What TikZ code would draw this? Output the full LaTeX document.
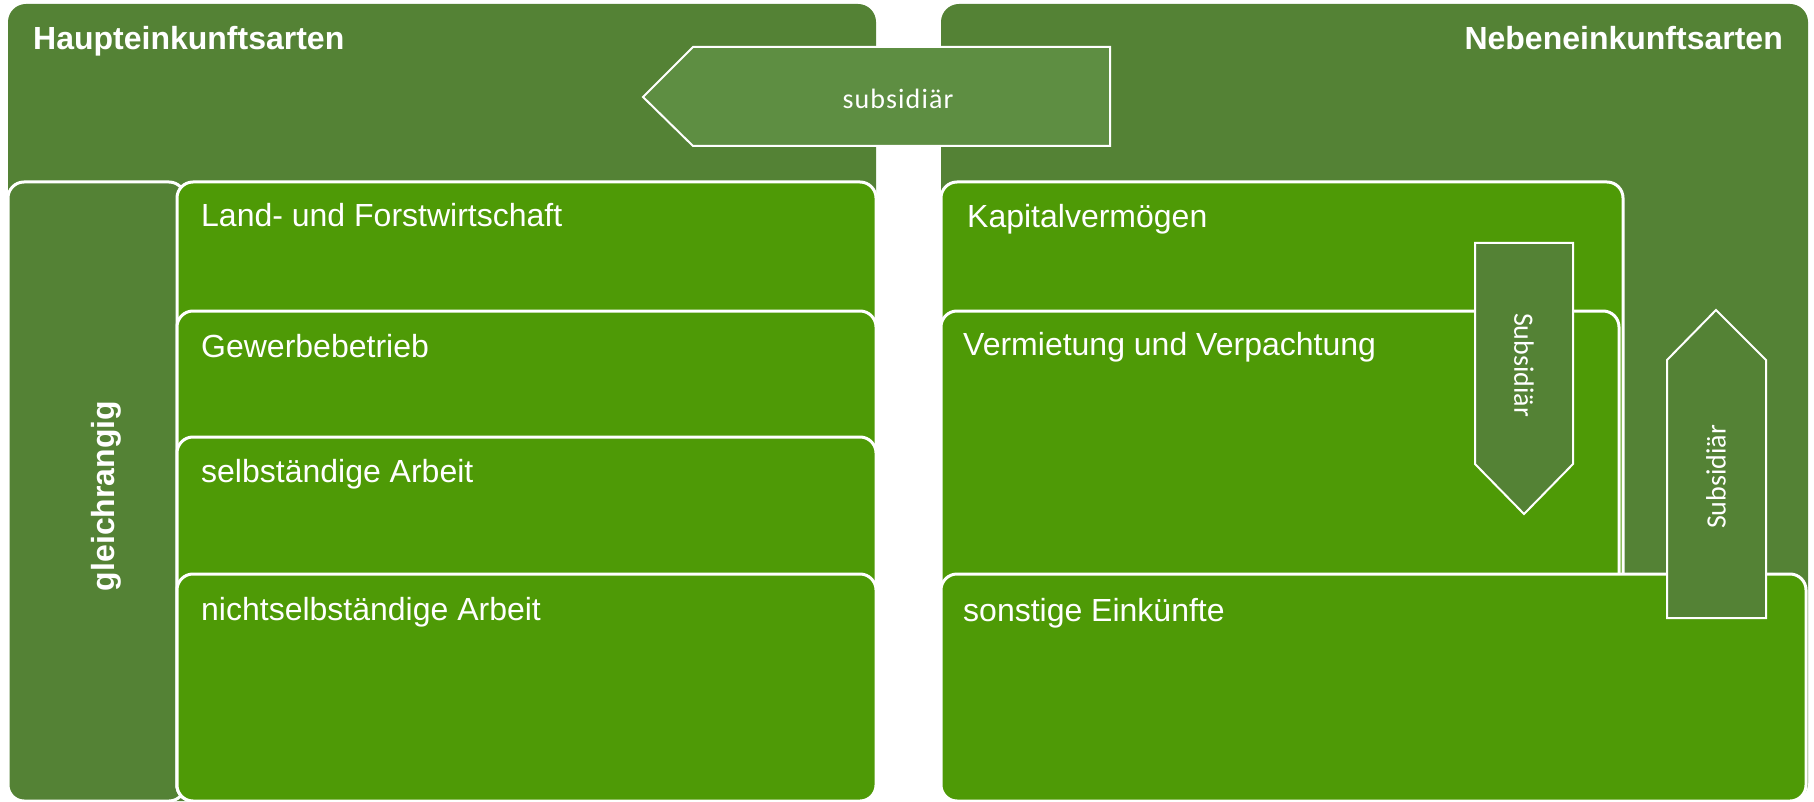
\documentclass[tikz,border=0pt]{standalone}
\usepackage{fontspec}
\setmainfont{Liberation Sans}
\newfontfamily\calf{Carlito}
\newfontfamily\calfsp[LetterSpace=4]{Carlito}
\definecolor{panelgreen}{RGB}{84,130,53}
\definecolor{boxgreen}{RGB}{78,154,6}
\definecolor{arrowgreen}{RGB}{94,142,66}
\tikzset{
  panel/.style={fill=panelgreen, rounded corners=18pt},
  itembox/.style={fill=boxgreen, draw=white, line width=3pt, rounded corners=16pt},
  sidebox/.style={fill=panelgreen, draw=white, line width=3pt, rounded corners=16pt},
  arrowshape/.style={fill=panelgreen, draw=white, line width=2pt},
  toparrow/.style={fill=arrowgreen, draw=white, line width=2pt},
  itemlabel/.style={anchor=base west, inner sep=0pt, text=white, font=\fontsize{32}{38}\selectfont},
  headlabel/.style={inner sep=0pt, text=white, font=\bfseries\fontsize{32}{38}\selectfont},
  arrowlabel/.style={inner sep=0pt, text=white, font=\calf\fontsize{28}{32}\selectfont}
}
\begin{document}
\begin{tikzpicture}[x=1pt,y=-1pt]
\useasboundingbox (0,0) rectangle (1814,802);
% big panels
\path[panel] (8,4) rectangle (876,801);
\path[panel] (941,4) rectangle (1808,801);
% left column
\draw[sidebox] (8,182) rectangle (185,801);
\draw[itembox] (177,182) rectangle (876,801);
\draw[itembox] (177,311) rectangle (876,801);
\draw[itembox] (177,437) rectangle (876,801);
\draw[itembox] (177,574) rectangle (876,801);
% right column
\draw[itembox] (941,182) rectangle (1623,801);
\draw[itembox] (941,311) rectangle (1619,801);
\draw[arrowshape] (1475,243) -- (1573,243) -- (1573,464) -- (1524,514) -- (1475,464) -- cycle;
\draw[itembox] (941,574) rectangle (1806,801);
\draw[arrowshape] (1667,618) -- (1667,360) -- (1716,310) -- (1766,360) -- (1766,618) -- cycle;
% top arrow
\draw[toparrow] (643,97) -- (693,47) -- (1110,47) -- (1110,146) -- (693,146) -- cycle;
% labels
\node[headlabel, anchor=base west] (haupt) at (33,50) {Haupteinkunftsarten};
\node[headlabel, anchor=base east] (neben) at (1783,50) {Nebeneinkunftsarten};
\node[headlabel, rotate=90] (gleich) at (106,496) {gleichrangig};
\node[itemlabel] (land) at (201,227) {Land- und Forstwirtschaft};
\node[itemlabel] (gewerbe) at (201,357) {Gewerbebetrieb};
\node[itemlabel] (selbst) at (201,482) {selbständige Arbeit};
\node[itemlabel] (nicht) at (201,620) {nichtselbständige Arbeit};
\node[itemlabel] (kapital) at (967,228) {Kapitalvermögen};
\node[itemlabel] (vermiet) at (963,355) {Vermietung und Verpachtung};
\node[itemlabel] (sonst) at (963,621) {sonstige Einkünfte};
\node[inner sep=0pt, text=white, font=\calfsp\fontsize{28}{32}\selectfont] (subtop) at (898,99) {subsidiär};
\node[arrowlabel, rotate=-90] (subdown) at (1524,365) {Subsidiär};
\node[arrowlabel, rotate=90] (subup) at (1716,477) {Subsidiär};
\end{tikzpicture}
\end{document}
